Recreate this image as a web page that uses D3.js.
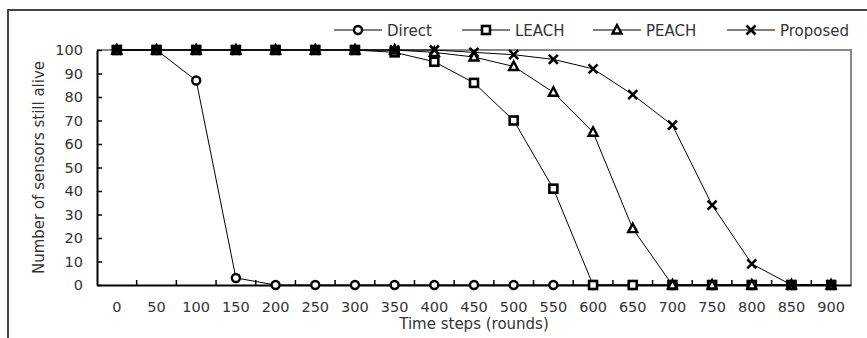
<!DOCTYPE html>
<html>
<head>
<meta charset="utf-8">
<script src="https://cdn.jsdelivr.net/npm/d3@7"></script>
<style>
  body { margin: 0; background: #fff; }
  text { font-family: "DejaVu Sans", "Liberation Sans", Arial, sans-serif; fill: #333; }
</style>
</head>
<body>
<div id="chart"></div>
<script>
// time steps (rounds) on the category axis
const rounds = [0, 50, 100, 150, 200, 250, 300, 350, 400, 450, 500, 550, 600, 650, 700, 750, 800, 850, 900];

// sensors still alive for each method
const direct   = [100, 100, 87, 3, 0, 0, 0, 0, 0, 0, 0, 0, 0, 0, 0, 0, 0, 0, 0];
const leach    = [100, 100, 100, 100, 100, 100, 100, 99, 95, 86, 70, 41, 0, 0, 0, 0, 0, 0, 0];
const peach    = [100, 100, 100, 100, 100, 100, 100, 100, 99, 97, 93, 82, 65, 24, 0, 0, 0, 0, 0];
const proposed = [100, 100, 100, 100, 100, 100, 100, 100, 100, 99, 98, 96, 92, 81, 68, 34, 9, 0, 0];

const seriesNames = ['Direct', 'LEACH', 'PEACH', 'Proposed'];
const seriesValues = [direct, leach, peach, proposed];
const markerTypes = ['circle', 'square', 'triangle', 'cross'];

const yTicks = [0, 10, 20, 30, 40, 50, 60, 70, 80, 90, 100];

const width = 867, height = 338;
const plot = { left: 97, right: 851, top: 50, bottom: 285 };
const tickFont = '14.5px';
const labelFont = '15px';

const svg = d3.select('#chart').append('svg')
  .attr('width', width)
  .attr('height', height);

// outer frame of the figure (only top and left edges are in view)
svg.append('path')
  .attr('d', 'M8,' + height + 'V10H' + width)
  .attr('fill', 'none')
  .attr('stroke', '#444')
  .attr('stroke-width', 2);

const x = d3.scaleBand()
  .domain(rounds)
  .range([plot.left, plot.right])
  .padding(0);

const y = d3.scaleLinear()
  .domain([0, 100])
  .range([plot.bottom, plot.top]);

const cx = d => x(d) + x.bandwidth() / 2;

// gray box on top and right side
svg.append('path')
  .attr('d', 'M' + plot.left + ',' + plot.top + 'H' + plot.right + 'V' + plot.bottom)
  .attr('fill', 'none')
  .attr('stroke', '#888')
  .attr('stroke-width', 2);

// y axis
const yAxis = svg.append('g')
  .attr('transform', 'translate(' + plot.left + ',0)')
  .call(d3.axisLeft(y).tickValues(yTicks).tickSize(-5).tickPadding(14).tickSizeOuter(0));
yAxis.select('.domain').attr('stroke', '#000').attr('stroke-width', 2);
yAxis.selectAll('.tick line').attr('stroke', '#000').attr('stroke-width', 1.5);
yAxis.selectAll('text').style('font-size', tickFont).attr('fill', '#333');

// x axis: labels at category centres
const xAxis = svg.append('g')
  .attr('transform', 'translate(0,' + plot.bottom + ')')
  .call(d3.axisBottom(x).tickSize(0).tickPadding(17).tickSizeOuter(0));
xAxis.select('.domain').attr('stroke', '#000').attr('stroke-width', 2);
xAxis.selectAll('text').style('font-size', tickFont).attr('fill', '#333');

// x tick marks between categories
svg.append('g')
  .selectAll('line')
  .data(rounds.slice(1))
  .enter()
  .append('line')
  .attr('x1', d => x(d))
  .attr('x2', d => x(d))
  .attr('y1', plot.bottom)
  .attr('y2', plot.bottom - 5)
  .attr('stroke', '#000')
  .attr('stroke-width', 1.5);

// axis titles
svg.append('text')
  .attr('x', (plot.left + plot.right) / 2)
  .attr('y', 329)
  .attr('text-anchor', 'middle')
  .style('font-size', labelFont)
  .text('Time steps (rounds)');

svg.append('text')
  .attr('transform', 'translate(44,' + ((plot.top + plot.bottom) / 2) + ') rotate(-90)')
  .attr('text-anchor', 'middle')
  .style('font-size', labelFont)
  .text('Number of sensors still alive');

function drawMarker(g, type) {
  if (type === 'circle') {
    g.append('circle').attr('r', 4)
      .attr('fill', '#fff').attr('stroke', '#000').attr('stroke-width', 2.4);
  } else if (type === 'square') {
    g.append('rect').attr('x', -4).attr('y', -4).attr('width', 8).attr('height', 8)
      .attr('fill', '#fff').attr('stroke', '#000').attr('stroke-width', 2.6);
  } else if (type === 'triangle') {
    g.append('path').attr('d', 'M0,-5L4.5,3.5H-4.5Z')
      .attr('fill', '#fff').attr('stroke', '#000').attr('stroke-width', 2.4);
  } else {
    g.append('path').attr('d', 'M-4.5,-4.5L4.5,4.5M-4.5,4.5L4.5,-4.5')
      .attr('fill', 'none').attr('stroke', '#000').attr('stroke-width', 2.6);
  }
}

const line = d3.line()
  .x((d, i) => cx(rounds[i]))
  .y(d => y(d));

seriesValues.forEach(vals => {
  svg.append('path')
    .datum(vals)
    .attr('d', line)
    .attr('fill', 'none')
    .attr('stroke', '#000')
    .attr('stroke-width', 1);
});

seriesValues.forEach((vals, s) => {
  svg.append('g')
    .selectAll('g')
    .data(vals)
    .enter()
    .append('g')
    .attr('transform', (d, i) => 'translate(' + cx(rounds[i]) + ',' + y(d) + ')')
    .each(function () { drawMarker(d3.select(this), markerTypes[s]); });
});

// legend
const legendX = [334, 462, 593, 727];
const legend = svg.append('g');
seriesNames.forEach((name, i) => {
  const item = legend.append('g').attr('transform', 'translate(' + legendX[i] + ',30)');
  item.append('line')
    .attr('x1', 0).attr('x2', 48)
    .attr('stroke', '#000').attr('stroke-width', 1);
  drawMarker(item.append('g').attr('transform', 'translate(24,0)'), markerTypes[i]);
  item.append('text')
    .attr('x', 53)
    .attr('y', 5.5)
    .style('font-size', labelFont)
    .text(name);
});
</script>
</body>
</html>
